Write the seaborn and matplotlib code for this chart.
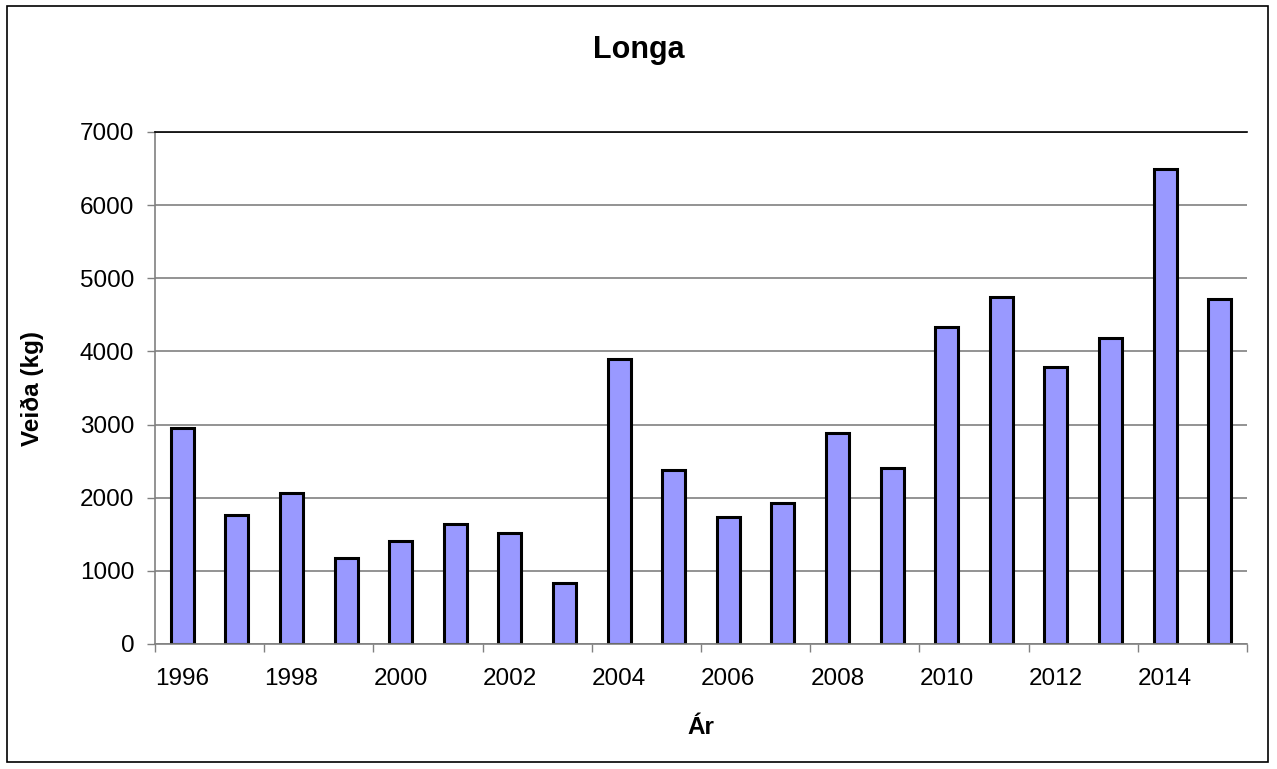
"""
Longa - annual catch (kg), 1996-2015, bar chart in the old Excel style.
"""
import matplotlib
matplotlib.use("Agg")
import matplotlib.pyplot as plt
import seaborn as sns
import pandas as pd
from matplotlib.patches import Rectangle
from matplotlib.ticker import FixedLocator, NullFormatter

YEARS = [1996, 1997, 1998, 1999, 2000, 2001, 2002, 2003, 2004, 2005,
         2006, 2007, 2008, 2009, 2010, 2011, 2012, 2013, 2014, 2015]
CATCH_KG = [2950, 1770, 2060, 1180, 1410, 1640, 1520, 840, 3900, 2380,
            1730, 1925, 2880, 2400, 4340, 4740, 3790, 4180, 6500, 4710]
Y_TICKS = [0, 1000, 2000, 3000, 4000, 5000, 6000, 7000]

TITLE = "Longa"
X_LABEL = "Ár"
Y_LABEL = "Veiða (kg)"

sns.set_style("white")
plt.rcParams["font.family"] = ["Liberation Sans", "DejaVu Sans"]
plt.rcParams["text.color"] = "black"
plt.rcParams["axes.labelcolor"] = "black"
plt.rcParams["xtick.labelcolor"] = "black"
plt.rcParams["ytick.labelcolor"] = "black"


def main():
    df = pd.DataFrame({"year": [str(y) for y in YEARS], "catch": CATCH_KG})

    fig = plt.figure(figsize=(12.77, 7.69), dpi=100)
    ax = fig.add_axes([155 / 1277, 1 - 644 / 769, 1092 / 1277, 512 / 769])

    sns.barplot(data=df, x="year", y="catch", color="#9999FF",
                edgecolor="black", linewidth=2.2, width=0.42,
                saturation=1, ax=ax)

    n = len(YEARS)
    ax.set_xlim(-0.5, n - 0.5)
    ax.set_ylim(0, 7000)

    # y axis: gridlines + outward ticks
    ax.set_yticks(Y_TICKS)
    ax.set_yticklabels([str(v) for v in Y_TICKS])
    ax.yaxis.grid(True, color="#808080", linewidth=1.2)
    ax.set_axisbelow(True)
    ax.tick_params(axis="y", direction="out", length=6, width=1,
                   color="#808080", labelcolor="black", left=True,
                   labelsize=17.5, pad=9)

    # x axis: tick marks every two categories on the boundaries,
    # labels centred under every other bar
    ax.xaxis.set_major_locator(FixedLocator([i - 0.5 for i in range(0, n + 1, 2)]))
    ax.xaxis.set_major_formatter(NullFormatter())
    ax.xaxis.set_minor_locator(FixedLocator(list(range(0, n, 2))))
    ax.set_xticklabels([str(y) for y in YEARS[::2]], minor=True)
    ax.tick_params(axis="x", which="major", direction="out", length=6,
                   width=1, color="#808080", bottom=True)
    ax.tick_params(axis="x", which="minor", length=0, labelsize=17.5,
                   labelcolor="black", pad=17)

    for side in ["left", "bottom"]:
        ax.spines[side].set_color("#808080")
        ax.spines[side].set_linewidth(1.2)
    ax.spines["right"].set_visible(False)
    ax.spines["top"].set_color("black")
    ax.spines["top"].set_linewidth(1.2)

    ax.set_xlabel(X_LABEL, fontsize=17.5, fontweight="bold", color="black")
    ax.xaxis.label.set_va("center")
    ax.xaxis.set_label_coords(0.5, -(727 - 644) / 512)
    ax.set_ylabel(Y_LABEL, fontsize=17.5, fontweight="bold", color="black")
    ax.yaxis.label.set_va("center")
    ax.yaxis.set_label_coords(-(155 - 32) / 1092, 0.5)

    fig.text(0.5, 1 - 50 / 769, TITLE, ha="center", va="center",
             fontsize=22, fontweight="bold", color="black")

    # outer chart border
    fig.patches.append(Rectangle((7 / 1277, 1 - 762 / 769), 1261 / 1277,
                                 756 / 769, transform=fig.transFigure,
                                 fill=False, edgecolor="black", linewidth=1.2))

    fig.savefig("out.png", dpi=100)
    plt.close(fig)


if __name__ == "__main__":
    main()
